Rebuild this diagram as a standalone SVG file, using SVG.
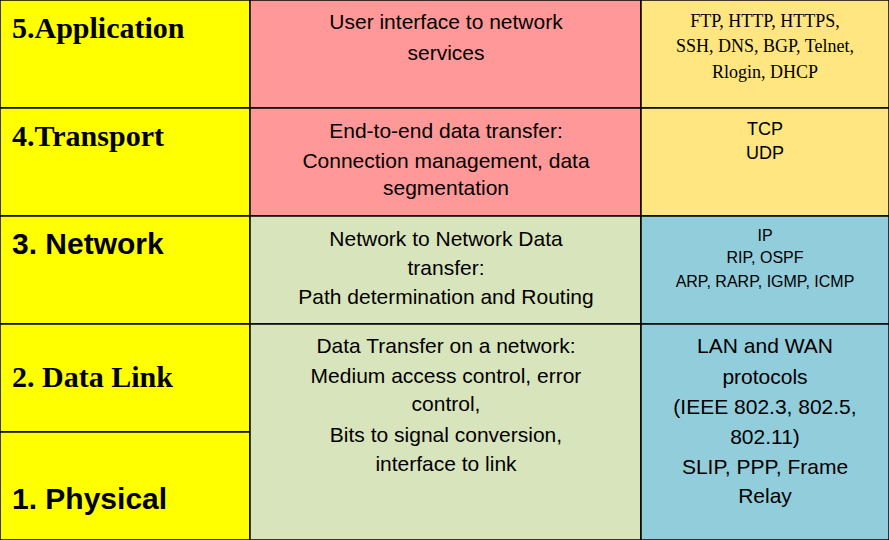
<svg xmlns="http://www.w3.org/2000/svg" width="889" height="540" viewBox="0 0 889 540">
<style>
rect{stroke:#000;stroke-width:1.5}
.s{font-family:"Liberation Sans",Arial,sans-serif}
.r{font-family:"Liberation Serif","Times New Roman",serif}
.h{font-size:30px;font-weight:bold}
.m{font-size:21px;text-anchor:middle}
.p{font-size:18px;text-anchor:middle}
.q{font-size:16px;text-anchor:middle}
</style>
<g id="row5">
<rect x="0" y="0" width="250" height="108" fill="#ffff00"/>
<rect x="250" y="0" width="391" height="108" fill="#ff9999"/>
<rect x="641" y="0" width="248" height="108" fill="#ffe680"/>
<text class="r h" x="12" y="38">5.Application</text>
<text class="s m" x="446" y="29">User interface to network</text>
<text class="s m" x="446" y="60">services</text>
<text class="r p" x="765" y="27">FTP, HTTP, HTTPS,</text>
<text class="r p" x="765" y="52">SSH, DNS, BGP, Telnet,</text>
<text class="r p" x="765" y="78">Rlogin, DHCP</text>
</g>
<g id="row4">
<rect x="0" y="108" width="250" height="108" fill="#ffff00"/>
<rect x="250" y="108" width="391" height="108" fill="#ff9999"/>
<rect x="641" y="108" width="248" height="108" fill="#ffe680"/>
<text class="r h" x="12" y="146">4.Transport</text>
<text class="s m" x="446" y="138">End-to-end data transfer:</text>
<text class="s m" x="446" y="168">Connection management, data</text>
<text class="s m" x="446" y="195">segmentation</text>
<text class="s p" x="765" y="135">TCP</text>
<text class="s p" x="765" y="159">UDP</text>
</g>
<g id="row3">
<rect x="0" y="216" width="250" height="108" fill="#ffff00"/>
<rect x="250" y="216" width="391" height="108" fill="#d8e4bc"/>
<rect x="641" y="216" width="248" height="108" fill="#92cddc"/>
<text class="s h" x="12" y="254">3. Network</text>
<text class="s m" x="446" y="246">Network to Network Data</text>
<text class="s m" x="446" y="275">transfer:</text>
<text class="s m" x="446" y="304">Path determination and Routing</text>
<text class="s q" x="765" y="241">IP</text>
<text class="s q" x="765" y="263">RIP, OSPF</text>
<text class="s q" x="765" y="287">ARP, RARP, IGMP, ICMP</text>
</g>
<g id="row21">
<rect x="0" y="324" width="250" height="108" fill="#ffff00"/>
<rect x="0" y="432" width="250" height="108" fill="#ffff00"/>
<rect x="250" y="324" width="391" height="216" fill="#d8e4bc"/>
<rect x="641" y="324" width="248" height="216" fill="#92cddc"/>
<text class="r h" x="12" y="387">2. Data Link</text>
<text class="s h" x="12" y="509">1. Physical</text>
<text class="s m" x="446" y="353">Data Transfer on a network:</text>
<text class="s m" x="446" y="383">Medium access control, error</text>
<text class="s m" x="446" y="411">control,</text>
<text class="s m" x="446" y="442">Bits to signal conversion,</text>
<text class="s m" x="446" y="471">interface to link</text>
<text class="s m" x="765" y="353">LAN and WAN</text>
<text class="s m" x="765" y="384">protocols</text>
<text class="s m" x="765" y="414">(IEEE 802.3, 802.5,</text>
<text class="s m" x="765" y="444">802.11)</text>
<text class="s m" x="765" y="474">SLIP, PPP, Frame</text>
<text class="s m" x="765" y="503">Relay</text>
</g>
</svg>
